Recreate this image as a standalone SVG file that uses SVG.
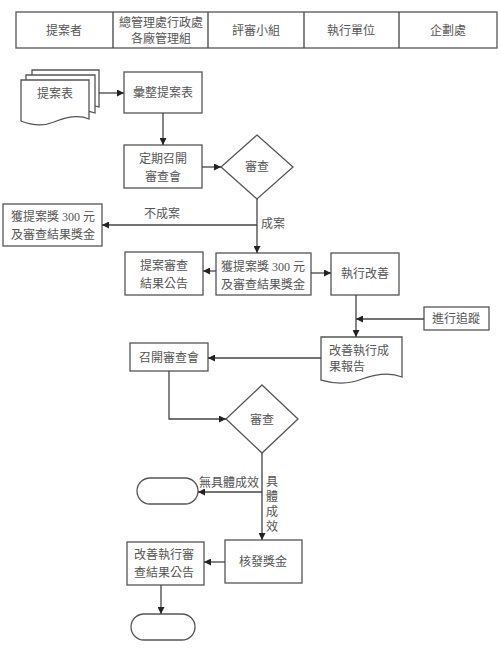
<svg xmlns="http://www.w3.org/2000/svg" width="500" height="654" viewBox="0 0 500 654">
<style>
.s{fill:#fff;stroke:#555;stroke-width:1.3}
.t{font-family:"Liberation Serif","Noto Sans CJK TC",serif;font-size:12px;fill:#555}
.c{text-anchor:middle}
.l{fill:none;stroke:#444;stroke-width:1.3}
</style>
<defs>
<marker id="a" viewBox="0 0 10 10" refX="10" refY="5" markerWidth="7" markerHeight="7" orient="auto" markerUnits="userSpaceOnUse">
<path d="M0,0 L10,5 L0,10 Z" fill="#222"/>
</marker>
</defs>
<rect width="500" height="654" fill="#fff"/>
<g id="header">
<rect class="s" x="16" y="12" width="481" height="36"/>
<path class="l" d="M113,12V48M208,12V48M304,12V48M399,12V48"/>
<text class="t c" x="64" y="35">提案者</text>
<text class="t c" x="161" y="27">總管理處行政處</text>
<text class="t c" x="161" y="43">各廠管理組</text>
<text class="t c" x="256" y="35">評審小組</text>
<text class="t c" x="351" y="35">執行單位</text>
<text class="t c" x="448" y="35">企劃處</text>
</g>
<g id="n1">
<path class="s" d="M32,70H99V107C90,104 80,106 70,110C60,113 45,112 32,110Z"/>
<path class="s" d="M26,75H95V113C85,109 73,112 62,116C50,120 38,118 26,115Z"/>
<path class="s" d="M21,80H89V119C78,114 66,117 54,122C42,127 31,125 21,121Z"/>
<text class="t c" x="55" y="98">提案表</text>
</g>
<g id="n2"><rect class="s" x="124" y="72" width="78" height="41"/><text class="t c" x="163" y="97">彙整提案表</text></g>
<g id="n3"><rect class="s" x="124" y="145" width="78" height="43"/><text class="t c" x="163" y="163">定期召開</text><text class="t c" x="163" y="181">審查會</text></g>
<g id="n4"><path class="s" d="M257,135L293,167L257,199L221,167Z"/><text class="t c" x="257" y="171">審查</text></g>
<g id="n5"><rect class="s" x="3" y="204" width="99" height="42"/><text class="t c" x="53" y="221">獲提案獎 300 元</text><text class="t c" x="53" y="239">及審查結果獎金</text></g>
<g id="n6"><rect class="s" x="125" y="252" width="78" height="43"/><text class="t c" x="164" y="270">提案審查</text><text class="t c" x="164" y="288">結果公告</text></g>
<g id="n7"><rect class="s" x="216" y="253" width="95" height="42"/><text class="t c" x="263" y="271">獲提案獎 300 元</text><text class="t c" x="263" y="289">及審查結果獎金</text></g>
<g id="n8"><rect class="s" x="331" y="253" width="68" height="42"/><text class="t c" x="365" y="278">執行改善</text></g>
<g id="n9"><rect class="s" x="424" y="307" width="65" height="23"/><text class="t c" x="456" y="323">進行追蹤</text></g>
<g id="n10"><path class="s" d="M321,337H402V377C390,372 376,374 362,379C350,384 335,384 321,380Z"/><text class="t" x="329" y="355">改善執行成</text><text class="t" x="329" y="371">果報告</text></g>
<g id="n11"><rect class="s" x="130" y="343" width="78" height="28"/><text class="t c" x="169" y="362">召開審查會</text></g>
<g id="n12"><path class="s" d="M262,385L298,419L262,453L226,419Z"/><text class="t c" x="262" y="424">審查</text></g>
<g id="n13"><rect class="s" x="137" y="478" width="61" height="26" rx="13"/></g>
<g id="n14"><rect class="s" x="225" y="540" width="77" height="43"/><text class="t c" x="263" y="566">核發獎金</text></g>
<g id="n15"><rect class="s" x="127" y="542" width="77" height="43"/><text class="t" x="134" y="559">改善執行審</text><text class="t" x="134" y="577">查結果公告</text></g>
<g id="n16"><rect class="s" x="131" y="614" width="64" height="26" rx="13"/></g>
<g id="connectors">
<path class="l" d="M99,93H124" marker-end="url(#a)"/>
<path class="l" d="M163,113V145" marker-end="url(#a)"/>
<path class="l" d="M202,167H221" marker-end="url(#a)"/>
<path class="l" d="M257,199V253" marker-end="url(#a)"/>
<path class="l" d="M257,225H102" marker-end="url(#a)"/>
<text class="t c" x="162" y="218">不成案</text>
<text class="t" x="261" y="228">成案</text>
<path class="l" d="M216,271H203" marker-end="url(#a)"/>
<path class="l" d="M311,273H331" marker-end="url(#a)"/>
<path class="l" d="M356,295V337" marker-end="url(#a)"/>
<path class="l" d="M424,319H356" marker-end="url(#a)"/>
<path class="l" d="M321,358H208" marker-end="url(#a)"/>
<path class="l" d="M169,371V419H226" marker-end="url(#a)"/>
<path class="l" d="M262,453V540" marker-end="url(#a)"/>
<path class="l" d="M262,492H198" marker-end="url(#a)"/>
<text class="t" x="199" y="487">無具體成效</text>
<text class="t" x="266" y="486">具</text>
<text class="t" x="266" y="501">體</text>
<text class="t" x="266" y="516">成</text>
<text class="t" x="266" y="531">效</text>
<path class="l" d="M225,562H204" marker-end="url(#a)"/>
<path class="l" d="M161,585V614" marker-end="url(#a)"/>
</g>
</svg>
